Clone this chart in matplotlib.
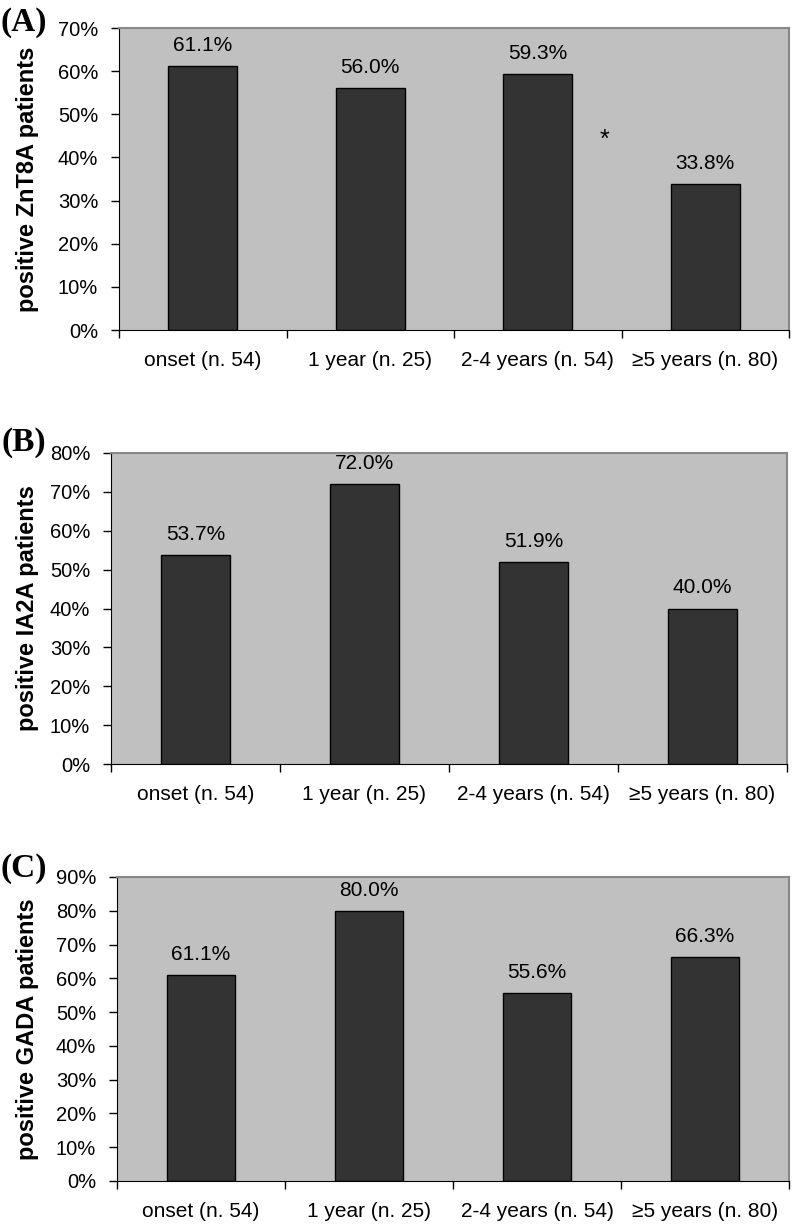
# Three bar panels: positive autoantibody patients by disease duration

import matplotlib.pyplot as plt

plt.rcParams['font.family'] = ['Liberation Sans', 'DejaVu Sans']

categories = ["onset (n. 54)", "1 year (n. 25)", "2-4 years (n. 54)", "\u22655 years (n. 80)"]
znt8a = [61.1, 56.0, 59.3, 33.8]
ia2a = [53.7, 72.0, 51.9, 40.0]
gada = [61.1, 80.0, 55.6, 66.3]

panel_labels = ["(A)", "(B)", "(C)"]
y_labels = ["positive ZnT8A patients", "positive IA2A patients", "positive GADA patients"]
y_max = [70, 80, 90]
series = [znt8a, ia2a, gada]

# axes boxes in pixels: left, right, top, bottom
boxes = [(119, 789, 28, 330), (111, 787, 453, 764), (117, 789, 877, 1181)]
label_pos = [(24, 22), (24, 443), (24, 868)]

W, H = 796, 1227
fig = plt.figure(figsize=(W / 100, H / 100), dpi=100)

for i in range(3):
    l, r, t, b = boxes[i]
    ax = fig.add_axes([l / W, (H - b) / H, (r - l) / W, (b - t) / H])
    ax.set_facecolor("#c0c0c0")
    x = range(len(categories))
    ax.bar(x, series[i], width=0.41, color="#333333", edgecolor="black", linewidth=1, zorder=2)
    for xi, v in zip(x, series[i]):
        ax.annotate("%.1f%%" % v, (xi, v), xytext=(0, 8), textcoords="offset points",
                    ha="center", va="bottom", fontsize=15)
    ax.set_xlim(-0.5, len(categories) - 0.5)
    ax.set_ylim(0, y_max[i])
    ax.set_yticks(range(0, y_max[i] + 1, 10))
    ax.set_yticklabels(["%d%%" % v for v in range(0, y_max[i] + 1, 10)], fontsize=14.5)
    ax.set_xticks([k - 0.5 for k in range(len(categories) + 1)])
    ax.set_xticklabels([])
    ax.set_xticks(list(x), minor=True)
    ax.set_xticklabels(categories, minor=True, fontsize=15)
    ax.tick_params(axis="x", which="major", length=6, width=1, direction="out")
    ax.tick_params(axis="x", which="minor", length=0, pad=15)
    ax.tick_params(axis="y", length=6, width=1, direction="out", pad=9)
    ax.spines["left"].set_color("black")
    ax.spines["bottom"].set_color("black")
    ax.spines["top"].set_color("#888888")
    ax.spines["right"].set_color("#888888")
    ax.spines["top"].set_linewidth(1.5)
    ax.spines["right"].set_linewidth(1.5)
    ax.set_ylabel(y_labels[i], fontsize=17, fontweight="bold")
    ax.yaxis.set_label_coords((39 - l) / (r - l), 0.5)
    fig.text(label_pos[i][0] / W, 1 - label_pos[i][1] / H, panel_labels[i],
             family=['Liberation Serif', 'DejaVu Serif'], fontweight="bold", fontsize=24,
             ha="center", va="center")
    if i == 0:
        ax.text(2.4, 44, "*", ha="center", va="center", fontsize=18)

fig.savefig("out.png", dpi=100)
